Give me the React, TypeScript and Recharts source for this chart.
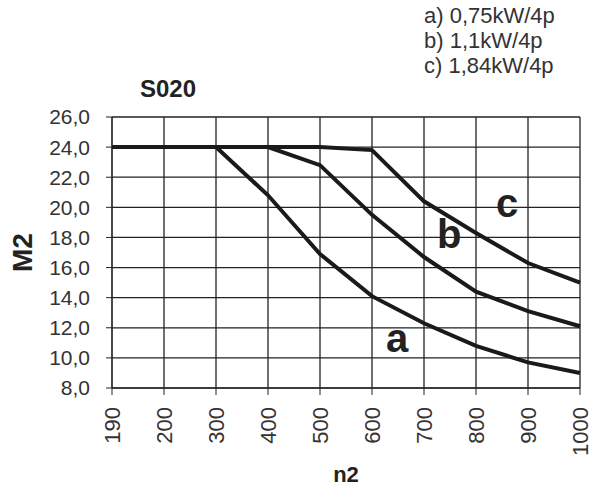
import React from 'react';
import { LineChart, Line, XAxis, YAxis, CartesianGrid, Label } from 'recharts';

const speeds = ['190', '200', '300', '400', '500', '600', '700', '800', '900', '1000'];
const torqueA = [24, 24, 24, 20.8, 16.9, 14.1, 12.3, 10.8, 9.7, 9.0];
const torqueB = [24, 24, 24, 24, 22.8, 19.5, 16.7, 14.4, 13.1, 12.1];
const torqueC = [24, 24, 24, 24, 24, 23.8, 20.4, 18.3, 16.3, 15.0];
const yTicks = [8, 10, 12, 14, 16, 18, 20, 22, 24, 26];
const legendLines = ['a) 0,75kW/4p', 'b) 1,1kW/4p', 'c) 1,84kW/4p'];

const data = speeds.map((n, i) => ({ n, a: torqueA[i], b: torqueB[i], c: torqueC[i] }));

const FONT = '"Liberation Sans", Arial, sans-serif';
const INK = '#222';

const XTick = (props: any) => {
  const { x, y, payload } = props;
  return (
    <text
      x={x}
      y={y + 10}
      transform={`rotate(-90, ${x}, ${y + 10})`}
      textAnchor="end"
      dy="0.36em"
      fontSize={22}
      fontFamily={FONT}
      fill="#333"
    >
      {payload.value}
    </text>
  );
};

const curveLabel = (text: string, left: number, top: number) => (
  <div
    style={{
      position: 'absolute',
      left,
      top,
      fontFamily: FONT,
      fontWeight: 'bold',
      fontSize: 40,
      lineHeight: 1,
      color: INK,
    }}
  >
    {text}
  </div>
);

export default function App() {
  return (
    <div style={{ position: 'absolute', left: 0, top: 0, width: 599, height: 488, background: '#fff', overflow: 'hidden' }}>
      <LineChart width={599} height={488} data={data} margin={{ top: 117, right: 19, bottom: 0, left: 0 }}>
        <CartesianGrid stroke={INK} strokeWidth={1.3} />
        <XAxis
          dataKey="n"
          height={100}
          stroke={INK}
          tickSize={7}
          tick={<XTick />}
          interval={0}
        >
          <Label
            value="n2"
            position="insideBottom"
            offset={6}
            style={{ fontFamily: FONT, fontWeight: 'bold', fontSize: 22, fill: INK }}
          />
        </XAxis>
        <YAxis
          width={112}
          domain={[8, 26]}
          ticks={yTicks}
          interval={0}
          stroke={INK}
          tickSize={6}
          tickMargin={16}
          tickFormatter={(v: number) => v.toFixed(1).replace('.', ',')}
          tick={{ fontSize: 21, fontFamily: FONT, fill: '#333' }}
        >
          <Label
            value="M2"
            angle={-90}
            position="insideLeft"
            offset={22}
            style={{ fontFamily: FONT, fontWeight: 'bold', fontSize: 28, fill: INK, textAnchor: 'middle' }}
          />
        </YAxis>
        <Line type="linear" dataKey="a" stroke="#1a1a1a" strokeWidth={4} dot={false} isAnimationActive={false} />
        <Line type="linear" dataKey="b" stroke="#1a1a1a" strokeWidth={4} dot={false} isAnimationActive={false} />
        <Line type="linear" dataKey="c" stroke="#1a1a1a" strokeWidth={4} dot={false} isAnimationActive={false} />
      </LineChart>
      <div
        style={{
          position: 'absolute',
          left: 140,
          top: 75,
          fontFamily: FONT,
          fontWeight: 'bold',
          fontSize: 24,
          color: INK,
        }}
      >
        S020
      </div>
      <div
        style={{
          position: 'absolute',
          left: 424,
          top: 3,
          fontFamily: FONT,
          fontSize: 22,
          lineHeight: '25px',
          color: '#333',
        }}
      >
        {legendLines.map((l) => (
          <div key={l}>{l}</div>
        ))}
      </div>
      {curveLabel('a', 386, 318)}
      {curveLabel('b', 437, 214)}
      {curveLabel('c', 496, 183)}
    </div>
  );
}
